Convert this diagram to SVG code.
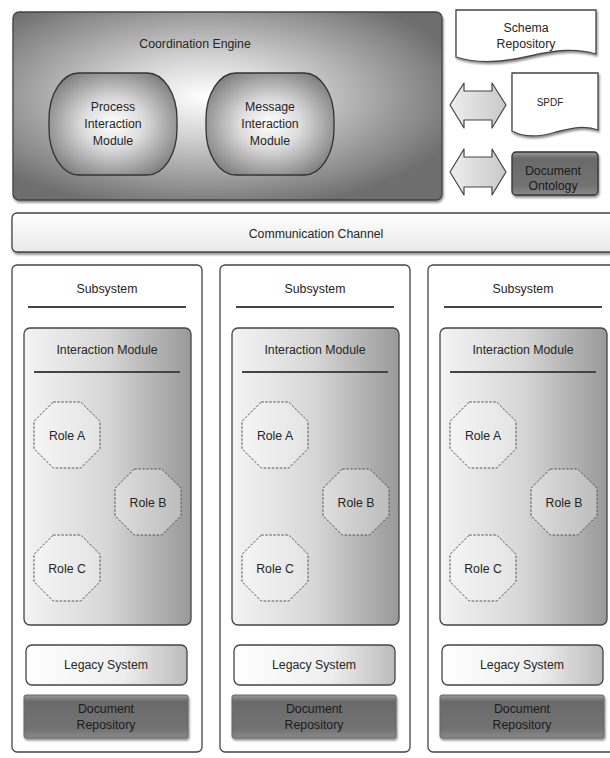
<svg xmlns="http://www.w3.org/2000/svg" width="610" height="758" viewBox="0 0 610 758">
<defs>
<style>
text{font-family:"Liberation Sans",Arial,sans-serif;font-size:12.3px;fill:#262626;text-anchor:middle}
.sm{font-size:10px}
.dk{fill:#1a1a1a}
.box{stroke:#444;stroke-width:1.3}
.oct{fill:#ffffff;fill-opacity:0.3;stroke:#555;stroke-width:1;stroke-dasharray:2.5,1.5}
.rule{stroke:#444;stroke-width:2}
.arrow{fill:url(#gArrow);stroke:#444;stroke-width:1.2;stroke-linejoin:round}
</style>
<radialGradient id="gCE" cx="0.45" cy="0.45" r="0.62">
<stop offset="0" stop-color="#ffffff"/>
<stop offset="0.35" stop-color="#d2d2d2"/>
<stop offset="1" stop-color="#6e6e6e"/>
</radialGradient>
<radialGradient id="gMod" cx="0.5" cy="0.5" r="0.6">
<stop offset="0" stop-color="#ffffff"/>
<stop offset="0.4" stop-color="#dcdcdc"/>
<stop offset="1" stop-color="#7a7a7a"/>
</radialGradient>
<linearGradient id="gIM" x1="0" y1="0" x2="1" y2="0">
<stop offset="0" stop-color="#f4f4f4"/>
<stop offset="0.5" stop-color="#d6d6d6"/>
<stop offset="1" stop-color="#999"/>
</linearGradient>
<linearGradient id="gLeg" x1="0" y1="0" x2="1" y2="0">
<stop offset="0" stop-color="#ffffff"/>
<stop offset="0.6" stop-color="#eeeeee"/>
<stop offset="1" stop-color="#bbb"/>
</linearGradient>
<linearGradient id="gCh" x1="0" y1="0" x2="0" y2="1">
<stop offset="0" stop-color="#ffffff"/>
<stop offset="1" stop-color="#e9e9e9"/>
</linearGradient>
<linearGradient id="gDark" x1="0" y1="0" x2="0" y2="1">
<stop offset="0" stop-color="#9a9a9a"/>
<stop offset="0.15" stop-color="#6a6a6a"/>
<stop offset="0.8" stop-color="#737373"/>
<stop offset="1" stop-color="#8a8a8a"/>
</linearGradient>
<linearGradient id="gArrow" x1="0" y1="0" x2="1" y2="0">
<stop offset="0" stop-color="#eeeeee"/>
<stop offset="1" stop-color="#c8c8c8"/>
</linearGradient>
<filter id="sh" x="-10%" y="-10%" width="130%" height="130%">
<feDropShadow dx="1" dy="2" stdDeviation="1.2" flood-color="#000" flood-opacity="0.45"/>
</filter>
</defs>

<g id="coordination-engine">
<rect x="13" y="12" width="429" height="188" rx="6" fill="url(#gCE)" class="box" filter="url(#sh)"/>
<text x="195" y="48">Coordination Engine</text>
</g>
<g id="process-interaction-module">
<rect x="49" y="73" width="128" height="102" rx="30" ry="46" fill="url(#gMod)" stroke="#333" stroke-width="1.3"/>
<text x="113" y="111">Process</text>
<text x="113" y="128">Interaction</text>
<text x="113" y="145">Module</text>
</g>
<g id="message-interaction-module">
<rect x="206" y="73" width="128" height="102" rx="30" ry="46" fill="url(#gMod)" stroke="#333" stroke-width="1.3"/>
<text x="270" y="111">Message</text>
<text x="270" y="128">Interaction</text>
<text x="270" y="145">Module</text>
</g>

<g id="schema-repository">
<path d="M456,10 H596 V54 C576,48 556,50 530,56 C505,62 478,64 456,57 Z" fill="#fff" class="box" filter="url(#sh)"/>
<text x="526" y="32">Schema</text>
<text x="526" y="48">Repository</text>
</g>
<g id="spdf">
<path d="M512,73 H598 V130 C585,125 572,128 556,132 C540,137 525,138 512,131 Z" fill="#fff" class="box" filter="url(#sh)"/>
<text x="550" y="106" class="sm">SPDF</text>
</g>
<g id="document-ontology">
<rect x="512" y="152" width="86" height="43" rx="4" fill="url(#gDark)" stroke="#333" stroke-width="1.3" filter="url(#sh)"/>
<text x="553" y="175" class="dk">Document</text>
<text x="553" y="190" class="dk">Ontology</text>
</g>

<g id="connectors">
<path class="arrow" d="M450,105 L464,83 L464,91 L492,91 L492,83 L506,105 L492,128 L492,120 L464,120 L464,128 Z"/>
<path class="arrow" d="M450,172 L464,149 L464,157 L492,157 L492,149 L506,172 L492,195 L492,187 L464,187 L464,195 Z"/>
</g>

<g id="communication-channel">
<rect x="12" y="213" width="608" height="39" rx="5" fill="url(#gCh)" class="box" filter="url(#sh)"/>
<text x="316" y="238">Communication Channel</text>
</g>

<g id="subsystem-1">
<rect x="12" y="265" width="190" height="487" rx="5" fill="#fff" class="box"/>
<text x="107" y="293">Subsystem</text>
<line x1="28" y1="307" x2="186" y2="307" class="rule"/>
<g id="interaction-module-1">
<rect x="24" y="328" width="167" height="297" rx="6" fill="url(#gIM)" class="box"/>
<text x="107" y="354">Interaction Module</text>
<line x1="34" y1="372" x2="180" y2="372" class="rule"/>
</g>
<g id="role-a-1"><polygon class="oct" transform="translate(67,435)" points="-13.7,-33 13.7,-33 33,-13.7 33,13.7 13.7,33 -13.7,33 -33,13.7 -33,-13.7"/><text x="67" y="440">Role A</text></g>
<g id="role-b-1"><polygon class="oct" transform="translate(148,502)" points="-13.7,-33 13.7,-33 33,-13.7 33,13.7 13.7,33 -13.7,33 -33,13.7 -33,-13.7"/><text x="148" y="507">Role B</text></g>
<g id="role-c-1"><polygon class="oct" transform="translate(67,568)" points="-13.7,-33 13.7,-33 33,-13.7 33,13.7 13.7,33 -13.7,33 -33,13.7 -33,-13.7"/><text x="67" y="573">Role C</text></g>
<g id="legacy-system-1">
<rect x="26" y="645" width="161" height="40" rx="6" fill="url(#gLeg)" class="box"/>
<text x="106" y="669">Legacy System</text>
</g>
<g id="document-repository-1">
<rect x="24" y="695" width="164" height="43" rx="2" fill="url(#gDark)" stroke="#666" stroke-width="1" filter="url(#sh)"/>
<text x="106" y="713" class="dk">Document</text>
<text x="106" y="729" class="dk">Repository</text>
</g>
</g>

<g id="subsystem-2">
<rect x="220" y="265" width="190" height="487" rx="5" fill="#fff" class="box"/>
<text x="315" y="293">Subsystem</text>
<line x1="236" y1="307" x2="394" y2="307" class="rule"/>
<g id="interaction-module-2">
<rect x="232" y="328" width="167" height="297" rx="6" fill="url(#gIM)" class="box"/>
<text x="315" y="354">Interaction Module</text>
<line x1="242" y1="372" x2="388" y2="372" class="rule"/>
</g>
<g id="role-a-2"><polygon class="oct" transform="translate(275,435)" points="-13.7,-33 13.7,-33 33,-13.7 33,13.7 13.7,33 -13.7,33 -33,13.7 -33,-13.7"/><text x="275" y="440">Role A</text></g>
<g id="role-b-2"><polygon class="oct" transform="translate(356,502)" points="-13.7,-33 13.7,-33 33,-13.7 33,13.7 13.7,33 -13.7,33 -33,13.7 -33,-13.7"/><text x="356" y="507">Role B</text></g>
<g id="role-c-2"><polygon class="oct" transform="translate(275,568)" points="-13.7,-33 13.7,-33 33,-13.7 33,13.7 13.7,33 -13.7,33 -33,13.7 -33,-13.7"/><text x="275" y="573">Role C</text></g>
<g id="legacy-system-2">
<rect x="234" y="645" width="161" height="40" rx="6" fill="url(#gLeg)" class="box"/>
<text x="314" y="669">Legacy System</text>
</g>
<g id="document-repository-2">
<rect x="232" y="695" width="164" height="43" rx="2" fill="url(#gDark)" stroke="#666" stroke-width="1" filter="url(#sh)"/>
<text x="314" y="713" class="dk">Document</text>
<text x="314" y="729" class="dk">Repository</text>
</g>
</g>

<g id="subsystem-3">
<rect x="428" y="265" width="190" height="487" rx="5" fill="#fff" class="box"/>
<text x="523" y="293">Subsystem</text>
<line x1="444" y1="307" x2="602" y2="307" class="rule"/>
<g id="interaction-module-3">
<rect x="440" y="328" width="167" height="297" rx="6" fill="url(#gIM)" class="box"/>
<text x="523" y="354">Interaction Module</text>
<line x1="450" y1="372" x2="596" y2="372" class="rule"/>
</g>
<g id="role-a-3"><polygon class="oct" transform="translate(483,435)" points="-13.7,-33 13.7,-33 33,-13.7 33,13.7 13.7,33 -13.7,33 -33,13.7 -33,-13.7"/><text x="483" y="440">Role A</text></g>
<g id="role-b-3"><polygon class="oct" transform="translate(564,502)" points="-13.7,-33 13.7,-33 33,-13.7 33,13.7 13.7,33 -13.7,33 -33,13.7 -33,-13.7"/><text x="564" y="507">Role B</text></g>
<g id="role-c-3"><polygon class="oct" transform="translate(483,568)" points="-13.7,-33 13.7,-33 33,-13.7 33,13.7 13.7,33 -13.7,33 -33,13.7 -33,-13.7"/><text x="483" y="573">Role C</text></g>
<g id="legacy-system-3">
<rect x="442" y="645" width="161" height="40" rx="6" fill="url(#gLeg)" class="box"/>
<text x="522" y="669">Legacy System</text>
</g>
<g id="document-repository-3">
<rect x="440" y="695" width="164" height="43" rx="2" fill="url(#gDark)" stroke="#666" stroke-width="1" filter="url(#sh)"/>
<text x="522" y="713" class="dk">Document</text>
<text x="522" y="729" class="dk">Repository</text>
</g>
</g>
</svg>
